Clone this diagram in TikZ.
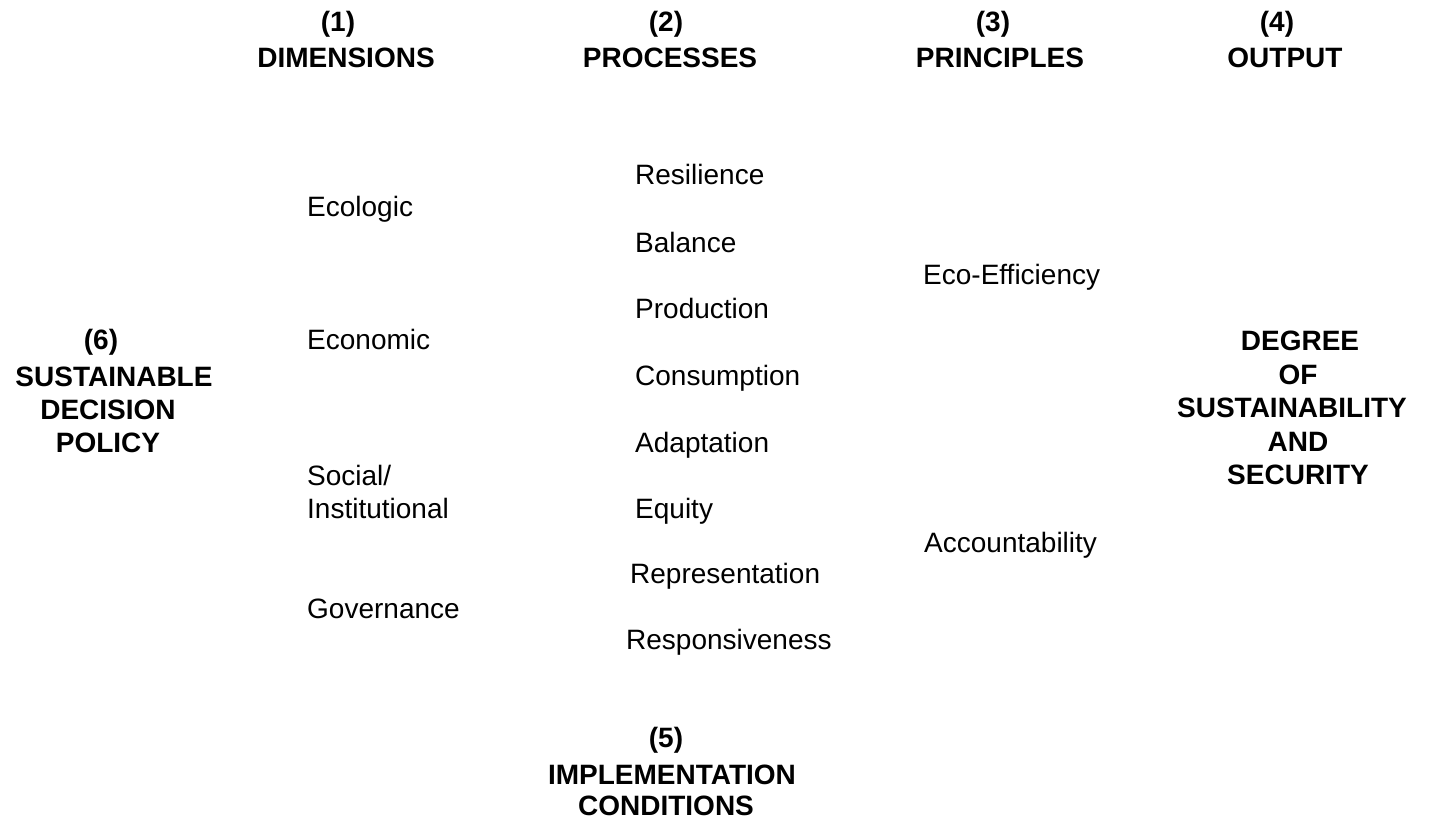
\documentclass[tikz,border=0pt]{standalone}
\usepackage{fontspec}
\setmainfont{Liberation Sans}
\begin{document}
\begin{tikzpicture}[x=1pt,y=-1pt,
  lab/.style={inner sep=0pt,anchor=base,font=\fontsize{28}{33}\selectfont\bfseries},
  item/.style={inner sep=0pt,anchor=base west,font=\fontsize{28}{33}\selectfont}]
\fill[white] (0,0) rectangle (1437,821);
\useasboundingbox (0,0) rectangle (1437,821);
% headers
\node[lab] (h1n) at (338,32) {(1)};
\node[lab] (h1t) at (346,68) {DIMENSIONS};
\node[lab] (h2n) at (666,32) {(2)};
\node[lab] (h2t) at (670,68) {PROCESSES};
\node[lab] (h3n) at (993,32) {(3)};
\node[lab] (h3t) at (1000,68) {PRINCIPLES};
\node[lab] (h4n) at (1277,32) {(4)};
\node[lab] (h4t) at (1285,68) {OUTPUT};
% (6)
\node[lab] (s6n) at (101,349) {(6)};
\node[lab] (s6a) at (114,386) {SUSTAINABLE};
\node[lab] (s6b) at (108,419) {DECISION};
\node[lab] (s6c) at (108,452) {POLICY};
% dimensions
\node[item] (d1) at (307,217) {Ecologic};
\node[item] (d2) at (307,349) {Economic};
\node[item] (d3a) at (307,485) {Social/};
\node[item] (d3b) at (307,518) {Institutional};
\node[item] (d4) at (307,618) {Governance};
% processes
\node[item] (p1) at (635,185) {Resilience};
\node[item] (p2) at (635,252) {Balance};
\node[item] (p3) at (635,318) {Production};
\node[item] (p4) at (635,385) {Consumption};
\node[item] (p5) at (635,452) {Adaptation};
\node[item] (p6) at (635,518) {Equity};
\node[item] (p7) at (630,583) {Representation};
\node[item] (p8) at (626,649) {Responsiveness};
% principles
\node[item] (r1) at (923,284) {Eco-Efficiency};
\node[item] (r2) at (924,552) {Accountability};
% output
\node[lab] (o1) at (1300,350) {DEGREE};
\node[lab] (o2) at (1298,384) {OF};
\node[lab] (o3) at (1292,417) {SUSTAINABILITY};
\node[lab] (o4) at (1298,451) {AND};
\node[lab] (o5) at (1298,484) {SECURITY};
% (5)
\node[lab] (i5n) at (666,747) {(5)};
\node[lab] (i5a) at (672,784) {IMPLEMENTATION};
\node[lab] (i5b) at (666,815) {CONDITIONS};
\end{tikzpicture}
\end{document}
